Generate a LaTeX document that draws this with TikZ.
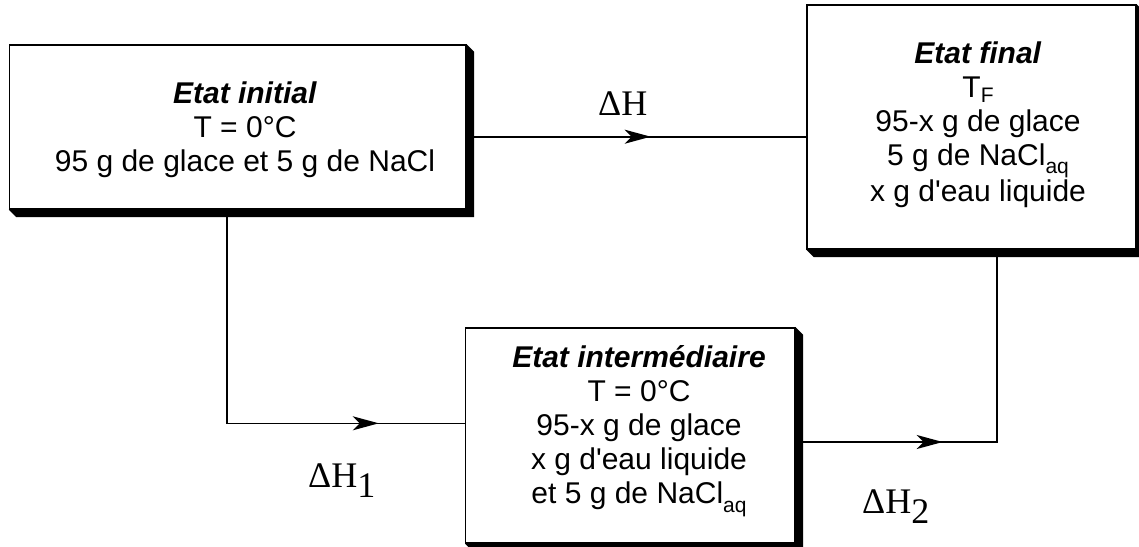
\documentclass[tikz,border=0pt]{standalone}
\usepackage{fontspec}
\setmainfont{Liberation Sans}
\newfontfamily\deltafont{Liberation Serif}
\usetikzlibrary{arrows.meta,decorations.markings}
% lowered index in text
\newcommand\lowidx[2][-0.28em]{\raisebox{#1}{\fontsize{21}{21}\selectfont #2}}

\begin{document}
\begin{tikzpicture}[x=1pt,y=-1pt,
  statebox/.style={draw, line width=1.4pt, fill=white, inner sep=0pt},
  statetext/.style={align=center, inner sep=0pt,
    font=\fontsize{30}{34}\selectfont},
  dlabel/.style={anchor=base west, inner sep=0pt,
    font=\deltafont\fontsize{36}{40}\selectfont},
  conn/.style={line width=1.6pt},
  arrowat/.style={postaction={decorate,decoration={markings,
    mark=at position #1 with {\arrow{Stealth[length=26pt,width=14pt,inset=7pt]}}}}}
]
\useasboundingbox (0,0) rectangle (1139,546);
\clip (0,0) rectangle (1139,546);

% the three states
\node[statebox, minimum width=456.5pt, minimum height=164pt] (box1) at (237.75,127) {};
\node[statebox, minimum width=329pt, minimum height=244pt] (box2) at (971.5,127) {};
\node[statebox, minimum width=329.3pt, minimum height=215pt] (box3) at (630.35,435.5) {};

% drop shadows with bevelled corners
\foreach \b in {box1,box2,box3}
  \fill (\b.south west) -- ++(7.5,7.5) -| ([shift={(7.5pt,-7.5pt)}]\b.north east)
        -- (\b.north east) -- (\b.south east) -- cycle;

\node[statetext] (t1) at (245,130)
  {\textbf{\textit{Etat initial}}\\T = 0°C\\95 g de glace et 5 g de NaCl};
\node[statetext] (t2) at (978,124.5)
  {\textbf{\textit{Etat final}}\\T\lowidx[-0.15em]{F}\\95-x g de glace\\5 g de NaCl\lowidx{aq}\\x g d\textquotesingle eau liquide};
\node[statetext] (t3) at (639,431)
  {\textbf{\textit{Etat intermédiaire}}\\T = 0°C\\95-x g de glace\\x g d\textquotesingle eau liquide\\et 5 g de NaCl\lowidx{aq}};

% transformations
\draw[conn, arrowat=184pt] ([yshift=-9.7pt]box1.east) -- ([yshift=-9.7pt]box2.west);
\draw[conn, arrowat=365.6pt] ([xshift=-11pt]box1.south) |- ([yshift=12.2pt]box3.west);
\draw[conn, arrowat=147pt] ([yshift=-6.5pt]box3.east) -| ([xshift=25.2pt]box2.south);

\node[dlabel] (dH) at (598,115) {ΔH};
\node[dlabel] (dH1) at (308,487) {ΔH\raisebox{-0.3em}{1}};
\node[dlabel] (dH2) at (862,513) {ΔH\raisebox{-0.3em}{2}};
\end{tikzpicture}
\end{document}
